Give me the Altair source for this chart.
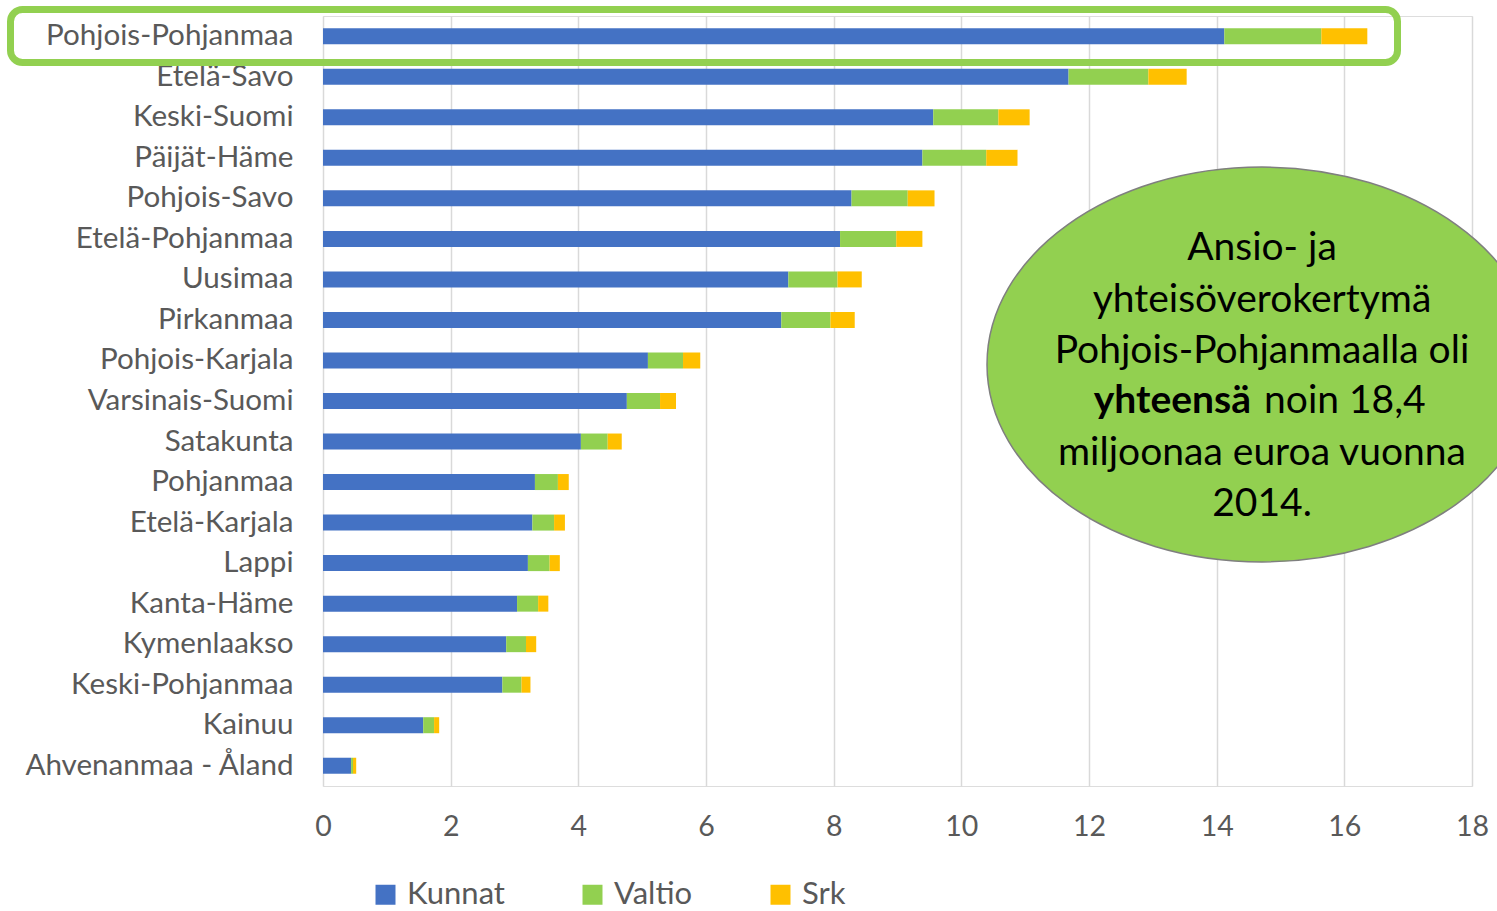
import altair as alt
import pandas as pd

# ---------------- data ----------------
regions = [
    "Pohjois-Pohjanmaa", "Etelä-Savo", "Keski-Suomi", "Päijät-Häme", "Pohjois-Savo",
    "Etelä-Pohjanmaa", "Uusimaa", "Pirkanmaa", "Pohjois-Karjala", "Varsinais-Suomi",
    "Satakunta", "Pohjanmaa", "Etelä-Karjala", "Lappi", "Kanta-Häme", "Kymenlaakso",
    "Keski-Pohjanmaa", "Kainuu", "Ahvenanmaa - Åland",
]
kunnat = [14.12, 11.68, 9.56, 9.39, 8.28, 8.10, 7.29, 7.18, 5.09, 4.76,
          4.04, 3.32, 3.28, 3.21, 3.04, 2.87, 2.81, 1.57, 0.44]
valtio = [1.52, 1.25, 1.02, 1.00, 0.88, 0.88, 0.77, 0.77, 0.55, 0.52,
          0.42, 0.36, 0.34, 0.34, 0.33, 0.31, 0.30, 0.17, 0.03]
srk = [0.72, 0.60, 0.49, 0.49, 0.42, 0.41, 0.38, 0.38, 0.27, 0.25,
       0.22, 0.17, 0.17, 0.16, 0.16, 0.16, 0.14, 0.08, 0.05]
series_names = ["Kunnat", "Valtio", "Srk"]
series_colors = ["#4472C4", "#92D050", "#FFC000"]
x_ticks = [0, 2, 4, 6, 8, 10, 12, 14, 16, 18]

note_lines = ["Ansio- ja", "yhteisöverokertymä", "Pohjois-Pohjanmaalla oli"]
note_bold = "yhteensä"
note_rest = "noin 18,4"
note_lines_end = ["miljoonaa euroa vuonna", "2014."]

rows = []
for i, r in enumerate(regions):
    for j, (name, vals) in enumerate(zip(series_names, [kunnat, valtio, srk])):
        rows.append({"alue": r, "sarja": name, "arvo": vals[i], "jarj": j})
df = pd.DataFrame(rows)
one = pd.DataFrame({"k": [0]})

FONT = "Lato"
GRAY = "#595959"
NOTE_SIZE = 39

bars = alt.Chart(df).mark_bar().encode(
    x=alt.X(
        "arvo:Q", stack="zero",
        scale=alt.Scale(domain=[0, 18], nice=False, zero=True),
        axis=alt.Axis(values=x_ticks, title=None, grid=True, gridColor="#d9d9d9",
                      gridWidth=1.5, domain=False, ticks=False, tickSize=0,
                      labelFontSize=28.5, labelColor=GRAY, labelPadding=26,
                      labelFlush=False, labelOverlap=False, labelFont=FONT),
    ),
    y=alt.Y(
        "alue:N", sort=regions,
        scale=alt.Scale(paddingInner=0.605, paddingOuter=0.3025),
        axis=alt.Axis(title=None, domain=False, ticks=False, tickSize=0, grid=False,
                      labelFontSize=29.6, labelColor=GRAY, labelPadding=30,
                      labelLimit=500, labelFont=FONT),
    ),
    color=alt.Color(
        "sarja:N",
        scale=alt.Scale(domain=series_names, range=series_colors),
        legend=alt.Legend(title=None, orient="none", legendX=47, legendY=863,
                          direction="horizontal", symbolType="square", symbolSize=400,
                          symbolStrokeWidth=0, symbolOpacity=1, labelFontSize=31,
                          labelColor=GRAY, labelOffset=6, columnPadding=72,
                          padding=0, labelFont=FONT),
    ),
    order=alt.Order("jarj:Q", sort="ascending"),
)

ELLIPSE = "M -1 0 A 1 0.718 0 0 1 1 0 A 1 0.718 0 0 1 -1 0 Z"
ellipse = alt.Chart(one).mark_point(
    shape=ELLIPSE, filled=True, fill="#92D050", stroke="#7f7f7f",
    strokeWidth=1.5, opacity=1, fillOpacity=1, strokeOpacity=1, size=302500,
).encode(x=alt.value(939), y=alt.value(348.5))

layers = [bars, ellipse]
line_y = [244, 296, 347, 397, 449, 500]
for txt, yy in zip(note_lines, line_y[:3]):
    layers.append(alt.Chart(one).mark_text(
        font=FONT, fontSize=NOTE_SIZE, color="black", align="center", baseline="alphabetic"
    ).encode(x=alt.value(939), y=alt.value(yy), text=alt.value(txt)))
layers.append(alt.Chart(one).mark_text(
    font=FONT, fontSize=NOTE_SIZE, fontWeight="bold", color="black", align="right",
    baseline="alphabetic"
).encode(x=alt.value(928), y=alt.value(line_y[3]), text=alt.value(note_bold)))
layers.append(alt.Chart(one).mark_text(
    font=FONT, fontSize=NOTE_SIZE, color="black", align="left", baseline="alphabetic"
).encode(x=alt.value(941), y=alt.value(line_y[3]), text=alt.value(note_rest)))
for txt, yy in zip(note_lines_end, line_y[4:]):
    layers.append(alt.Chart(one).mark_text(
        font=FONT, fontSize=NOTE_SIZE, color="black", align="center", baseline="alphabetic"
    ).encode(x=alt.value(939), y=alt.value(yy), text=alt.value(txt)))

highlight = alt.Chart(one).mark_rect(
    fillOpacity=0, stroke="#92D050", strokeWidth=7, cornerRadius=12,
).encode(x=alt.value(-312.5), x2=alt.value(1074.5), y=alt.value(-6.5), y2=alt.value(46.5))
layers.append(highlight)

chart = alt.layer(*layers).properties(
    width=1149, height=770,
    autosize=alt.AutoSizeParams(type="none"),
    padding={"left": 323, "top": 16, "right": 25, "bottom": 125},
).configure_view(stroke=None).configure(font=FONT)

chart.save("out.html", embed_options={"renderer": "svg", "actions": False})
